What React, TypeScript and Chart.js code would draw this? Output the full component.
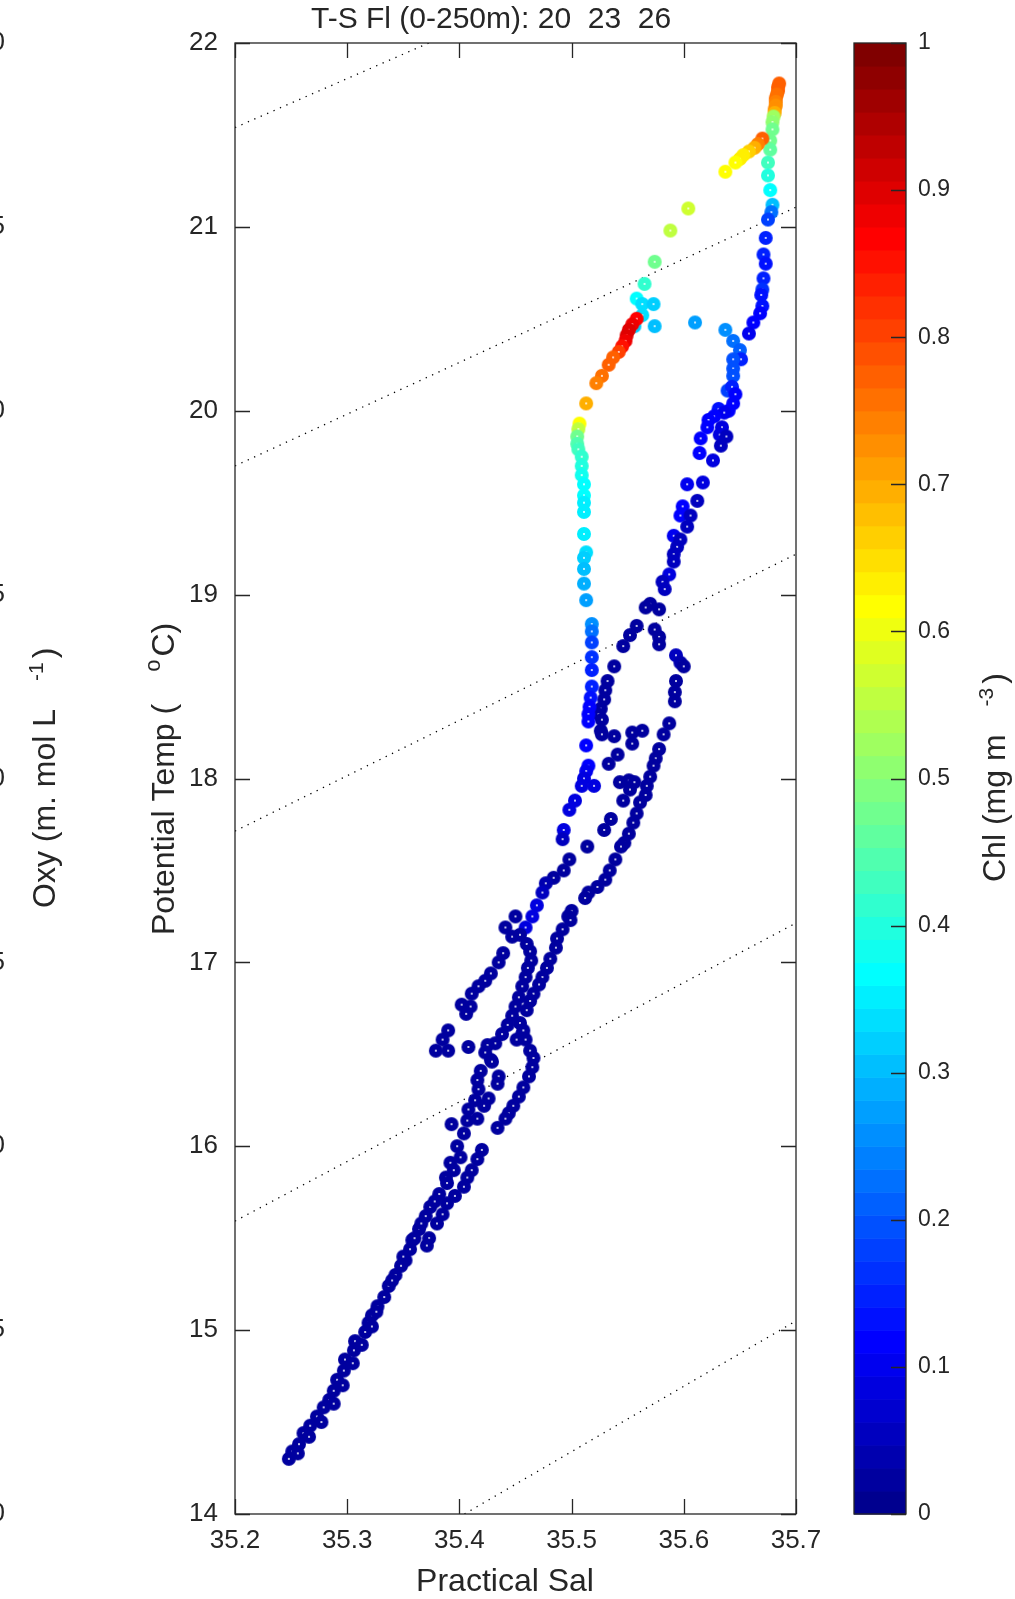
import React, { useEffect, useRef } from "react";
import { Chart, registerables } from "chart.js";

Chart.register(...registerables);

// ---------- data ----------
const salinity: number[] = [
  // surface column (top right)
  35.685, 35.684, 35.684, 35.683, 35.682, 35.682, 35.682, 35.681, 35.681, 35.680,
  35.679, 35.679, 35.677, 35.677, 35.675, 35.675, 35.677, 35.679, 35.678, 35.675,
  35.673, 35.671, 35.673, 35.671, 35.670, 35.669, 35.670, 35.668, 35.662, 35.658,
  // yellow diagonal branch and right blue branch
  35.670, 35.666, 35.663, 35.658, 35.653, 35.650, 35.646, 35.637, 35.604, 35.588,
  35.574, 35.565, 35.558, 35.563, 35.573, 35.563, 35.556, 35.574, 35.610, 35.637,
  35.644, 35.650, 35.651, 35.644, 35.644, 35.644, 35.639, 35.643, 35.646, 35.644,
  35.640, 35.631, 35.636, 35.627, 35.622, 35.621, 35.634, 35.632, 35.638, 35.633,
  35.615, 35.614, 35.626, 35.617, 35.603, 35.612, 35.599, 35.597, 35.606, 35.603,
  35.591, 35.597, 35.594, 35.591, 35.591, 35.587, 35.581, 35.583, 35.570, 35.566,
  35.578, 35.558, 35.552, 35.546, 35.538, 35.532, 35.530, 35.529, 35.526, 35.524,
  35.527, 35.526, 35.527, 35.538, 35.554, 35.563, 35.554, 35.541, 35.533, 35.543,
  35.551, 35.556, 35.552, 35.546, 35.535, 35.529, 35.514,
  // red cluster and cyan column
  35.558, 35.554, 35.551, 35.549, 35.548, 35.545, 35.542, 35.537, 35.533, 35.527,
  35.522, 35.513, 35.507, 35.506, 35.505, 35.505, 35.506, 35.509, 35.509, 35.509,
  35.511, 35.511, 35.511, 35.511, 35.511, 35.513, 35.511, 35.511, 35.511, 35.513,
  35.518, 35.518, 35.518, 35.518, 35.518, 35.518, 35.517, 35.516, 35.515, 35.515,
  35.513, 35.515, 35.513, 35.511, 35.509, 35.503, 35.520,
  // right navy strand
  35.574, 35.578, 35.578, 35.593, 35.597, 35.600, 35.593, 35.592, 35.592, 35.587,
  35.582, 35.578, 35.575, 35.573, 35.570, 35.567, 35.566, 35.561, 35.558, 35.555,
  35.551, 35.547, 35.544, 35.539, 35.534, 35.530, 35.523, 35.515, 35.512, 35.500,
  35.497, 35.499, 35.492, 35.487, 35.486, 35.481, 35.478, 35.474, 35.471, 35.466,
  35.463, 35.460, 35.454, 35.456, 35.459, 35.463, 35.466, 35.465, 35.462, 35.457,
  35.453, 35.448, 35.444, 35.441, 35.434, 35.420, 35.416, 35.411, 35.407, 35.404,
  35.396, 35.389, 35.385, 35.380, 35.373, 35.371,
  // left strand
  35.498, 35.493, 35.492, 35.498, 35.493, 35.484, 35.477, 35.474, 35.469, 35.465,
  35.459, 35.450, 35.441, 35.447, 35.454, 35.460, 35.463, 35.464, 35.461, 35.459,
  35.456, 35.453, 35.450, 35.447, 35.443, 35.438, 35.432, 35.425, 35.423, 35.428,
  35.419, 35.416, 35.417, 35.414, 35.408, 35.407, 35.404, 35.398, 35.392, 35.388,
  35.429, 35.435, 35.434, 35.426, 35.422, 35.416, 35.457, 35.451,
  // isolated points left of the strands
  35.439, 35.435, 35.428, 35.423, 35.417, 35.411, 35.402, 35.410, 35.406, 35.390,
  35.385, 35.379, 35.390, 35.408, 35.393,
  // deep tail
  35.401, 35.395, 35.389, 35.382, 35.374, 35.370, 35.364, 35.358, 35.356, 35.352,
  35.348, 35.343, 35.337, 35.333, 35.327, 35.322, 35.319, 35.316, 35.307, 35.306,
  35.298, 35.297, 35.291, 35.288, 35.284, 35.279, 35.273, 35.267, 35.261, 35.257,
  35.251, 35.248,
  35.378, 35.366, 35.360, 35.350, 35.340, 35.326, 35.322, 35.313, 35.305, 35.296,
  35.288, 35.277, 35.266, 35.256,
];

const temperature: number[] = [
  21.78, 21.76, 21.74, 21.72, 21.70, 21.68, 21.66, 21.64, 21.62, 21.60,
  21.57, 21.53, 21.47, 21.42, 21.35, 21.28, 21.20, 21.12, 21.08, 21.04,
  20.94, 20.85, 20.80, 20.72, 20.66, 20.63, 20.57, 20.53, 20.48, 20.42,
  21.48, 21.45, 21.43, 21.41, 21.39, 21.37, 21.35, 21.30, 21.10, 20.98,
  20.81, 20.69, 20.61, 20.58, 20.58, 20.52, 20.46, 20.46, 20.48, 20.44,
  20.38, 20.33, 20.28, 20.28, 20.23, 20.19, 20.11, 20.13, 20.09, 20.04,
  20.00, 20.01, 19.99, 19.97, 19.95, 19.91, 19.91, 19.87, 19.86, 19.81,
  19.85, 19.77, 19.73, 19.61, 19.60, 19.51, 19.48, 19.43, 19.43, 19.37,
  19.32, 19.30, 19.26, 19.22, 19.18, 19.11, 19.07, 19.03, 18.95, 18.93,
  18.92, 18.83, 18.78, 18.72, 18.61, 18.53, 18.48, 18.43, 18.38, 18.35,
  18.32, 18.26, 18.24, 18.23, 18.25, 18.26, 18.19, 18.13, 18.08, 17.98,
  17.99, 17.98, 17.94, 17.88, 17.78, 17.72, 17.63,
  20.50, 20.47, 20.44, 20.41, 20.38, 20.35, 20.32, 20.29, 20.25, 20.19,
  20.15, 20.04, 19.93, 19.90, 19.86, 19.82, 19.79, 19.75, 19.70, 19.65,
  19.60, 19.54, 19.50, 19.45, 19.33, 19.23, 19.20, 19.14, 19.06, 18.97,
  18.84, 18.80, 18.74, 18.66, 18.59, 18.50, 18.44, 18.39, 18.35, 18.31,
  18.18, 18.07, 18.04, 18.00, 17.96, 17.88, 17.96,
  18.81, 18.77, 18.73, 18.67, 18.63, 18.61, 18.53, 18.47, 18.42, 18.30,
  18.24, 18.16, 18.11, 18.07, 18.01, 17.96, 17.91, 17.87, 17.81, 17.76,
  17.70, 17.65, 17.63, 17.56, 17.50, 17.45, 17.41, 17.38, 17.35, 17.28,
  17.25, 17.23, 17.18, 17.13, 17.08, 17.02, 16.97, 16.92, 16.88, 16.83,
  16.79, 16.74, 16.67, 16.61, 16.58, 16.52, 16.48, 16.43, 16.38, 16.32,
  16.27, 16.22, 16.18, 16.15, 16.10, 15.98, 15.93, 15.87, 15.83, 15.78,
  15.73, 15.69, 15.63, 15.58, 15.50, 15.46,
  17.83, 17.72, 17.67, 17.56, 17.50, 17.46, 17.43, 17.38, 17.31, 17.25,
  17.19, 17.25, 17.19, 17.14, 17.15, 17.10, 17.06, 17.01, 16.97, 16.92,
  16.87, 16.81, 16.76, 16.71, 16.66, 16.61, 16.56, 16.55, 16.51, 16.47,
  16.41, 16.36, 16.31, 16.25, 16.20, 16.14, 16.07, 16.00, 15.91, 15.83,
  16.46, 16.38, 16.34, 16.26, 16.22, 16.15, 16.63, 16.58,
  17.05, 17.00, 16.94, 16.90, 16.87, 16.83, 16.77, 16.76, 16.72, 16.63,
  16.58, 16.52, 16.52, 16.54, 16.12,
  15.94, 15.87, 15.80, 15.74, 15.67, 15.62, 15.55, 15.49, 15.44, 15.38,
  15.35, 15.30, 15.24, 15.18, 15.13, 15.08, 15.04, 14.99, 14.94, 14.89,
  14.84, 14.78, 14.73, 14.67, 14.62, 14.58, 14.53, 14.48, 14.44, 14.38,
  14.34, 14.30,
  15.70, 15.58, 15.50, 15.40, 15.27, 15.10, 15.02, 14.92, 14.82, 14.70,
  14.60, 14.50, 14.42, 14.33,
];

const chlorophyll: number[] = [
  0.78, 0.78, 0.77, 0.76, 0.75, 0.74, 0.73, 0.72, 0.70, 0.53,
  0.50, 0.48, 0.47, 0.46, 0.43, 0.40, 0.36, 0.30, 0.23, 0.18,
  0.15, 0.15, 0.14, 0.15, 0.16, 0.14, 0.13, 0.12, 0.12, 0.10,
  0.78, 0.74, 0.70, 0.66, 0.64, 0.63, 0.62, 0.62, 0.57, 0.55,
  0.48, 0.42, 0.37, 0.34, 0.32, 0.34, 0.32, 0.30, 0.28, 0.25,
  0.22, 0.21, 0.15, 0.20, 0.20, 0.20, 0.18, 0.15, 0.12, 0.12,
  0.12, 0.13, 0.10, 0.12, 0.12, 0.12, 0.08, 0.08, 0.05, 0.05,
  0.12, 0.12, 0.08, 0.08, 0.10, 0.05, 0.12, 0.12, 0.05, 0.05,
  0.10, 0.05, 0.05, 0.05, 0.05, 0.08, 0.05, 0.05, 0.02, 0.02,
  0.02, 0.02, 0.02, 0.02, 0.02, 0.02, 0.02, 0.02, 0.02, 0.02,
  0.02, 0.02, 0.02, 0.02, 0.03, 0.03, 0.02, 0.02, 0.02, 0.02,
  0.03, 0.03, 0.02, 0.02, 0.02, 0.02, 0.02,
  0.86, 0.88, 0.90, 0.90, 0.88, 0.85, 0.80, 0.78, 0.78, 0.76,
  0.74, 0.70, 0.62, 0.55, 0.48, 0.45, 0.43, 0.41, 0.40, 0.38,
  0.37, 0.36, 0.35, 0.35, 0.35, 0.33, 0.32, 0.31, 0.29, 0.27,
  0.26, 0.22, 0.18, 0.16, 0.15, 0.15, 0.13, 0.12, 0.12, 0.12,
  0.12, 0.11, 0.10, 0.09, 0.08, 0.08, 0.08,
  0.02, 0.02, 0.02, 0.05, 0.04, 0.03, 0.02, 0.02, 0.02, 0.02,
  0.02, 0.02, 0.02, 0.02, 0.02, 0.02, 0.02, 0.02, 0.02, 0.02,
  0.02, 0.02, 0.02, 0.02, 0.02, 0.02, 0.02, 0.02, 0.02, 0.02,
  0.02, 0.02, 0.02, 0.02, 0.02, 0.02, 0.02, 0.02, 0.02, 0.02,
  0.02, 0.02, 0.02, 0.02, 0.02, 0.02, 0.02, 0.02, 0.02, 0.02,
  0.02, 0.02, 0.02, 0.02, 0.02, 0.02, 0.02, 0.02, 0.02, 0.02,
  0.02, 0.02, 0.02, 0.02, 0.02, 0.02,
  0.08, 0.08, 0.06, 0.02, 0.02, 0.03, 0.04, 0.05, 0.08, 0.08,
  0.08, 0.02, 0.02, 0.02, 0.02, 0.02, 0.02, 0.02, 0.02, 0.02,
  0.02, 0.02, 0.02, 0.02, 0.02, 0.02, 0.02, 0.02, 0.02, 0.02,
  0.02, 0.02, 0.02, 0.02, 0.02, 0.02, 0.02, 0.02, 0.02, 0.02,
  0.02, 0.02, 0.02, 0.02, 0.02, 0.02, 0.02, 0.02,
  0.02, 0.02, 0.02, 0.02, 0.02, 0.02, 0.02, 0.02, 0.02, 0.02,
  0.02, 0.02, 0.02, 0.02, 0.02,
  0.02, 0.02, 0.02, 0.02, 0.02, 0.02, 0.02, 0.02, 0.02, 0.02,
  0.02, 0.02, 0.02, 0.02, 0.02, 0.02, 0.02, 0.02, 0.02, 0.02,
  0.02, 0.02, 0.02, 0.02, 0.02, 0.02, 0.02, 0.02, 0.02, 0.02,
  0.02, 0.02,
  0.02, 0.02, 0.02, 0.02, 0.02, 0.02, 0.02, 0.02, 0.02, 0.02,
  0.02, 0.02, 0.02, 0.02,
];

// isopycnal (dotted) lines: start / end in (salinity, temperature)
const isoSalStart = [35.2, 35.2, 35.2, 35.2, 35.4045];
const isoTempStart = [21.54, 19.70, 17.714, 15.593, 14.0];
const isoSalEnd = [35.3727, 35.7, 35.7, 35.7, 35.7];
const isoTempEnd = [22.0, 21.107, 19.22, 17.214, 15.05];

const xTicks = [35.2, 35.3, 35.4, 35.5, 35.6, 35.7];
const yTicks = [14, 15, 16, 17, 18, 19, 20, 21, 22];
const cbTicks = [0, 0.1, 0.2, 0.3, 0.4, 0.5, 0.6, 0.7, 0.8, 0.9, 1];
const cbTickLabels = ["0", "0.1", "0.2", "0.3", "0.4", "0.5", "0.6", "0.7", "0.8", "0.9", "1"];
const oxyTickFragments = ["0", "5", "0", "5", "0", "5", "0", "5", "0"];

const titleText = "T-S Fl (0-250m): 20  23  26";
const xLabel = "Practical Sal";

// ---------- styling helpers ----------
const FONT = '"Liberation Sans", Arial, Helvetica, sans-serif';
const INK = "#262626";

function jetMap(n: number): number[][] {
  const m = Math.ceil(n / 4);
  const u: number[] = [];
  for (let i = 1; i <= m; i++) u.push(i / m);
  for (let i = 0; i < m - 1; i++) u.push(1);
  for (let i = m; i >= 1; i--) u.push(i / m);
  const J = Array.from({ length: n }, () => [0, 0, 0]);
  const off = Math.ceil(m / 2) - (n % 4 === 1 ? 1 : 0);
  for (let k = 0; k < u.length; k++) {
    const g = off + k + 1;
    const r = g + m;
    const b = g - m;
    if (r >= 1 && r <= n) J[r - 1][0] = u[k];
    if (g >= 1 && g <= n) J[g - 1][1] = u[k];
    if (b >= 1 && b <= n) J[b - 1][2] = u[k];
  }
  return J;
}
const JET = jetMap(64);
const rgb = (c: number[]) =>
  `rgb(${Math.round(c[0] * 255)},${Math.round(c[1] * 255)},${Math.round(c[2] * 255)})`;
const jetIndex = (v: number) => Math.max(0, Math.min(63, Math.floor(v * 64)));

// marker sprite: filled jet-coloured disc with a tiny white centre
const SPRITE = 16;
const markerCache: Record<number, HTMLCanvasElement> = {};
function markerFor(idx: number): HTMLCanvasElement {
  if (markerCache[idx]) return markerCache[idx];
  const c = document.createElement("canvas");
  c.width = SPRITE;
  c.height = SPRITE;
  const g = c.getContext("2d")!;
  const h = SPRITE / 2;
  g.fillStyle = rgb(JET[idx]);
  g.beginPath();
  g.arc(h, h, 7.0, 0, Math.PI * 2);
  g.fill();
  g.fillStyle = "#ffffff";
  g.beginPath();
  g.arc(h, h, 1.0, 0, Math.PI * 2);
  g.fill();
  markerCache[idx] = c;
  return c;
}

type Seg = { t: string; size: number; rise?: number; gap?: number };
function drawRotated(ctx: CanvasRenderingContext2D, x: number, y: number, segs: Seg[]) {
  ctx.save();
  ctx.translate(x, y);
  ctx.rotate(-Math.PI / 2);
  ctx.textAlign = "left";
  ctx.textBaseline = "alphabetic";
  ctx.fillStyle = INK;
  let cx = 0;
  for (const s of segs) {
    cx += s.gap || 0;
    ctx.font = `${s.size}px ${FONT}`;
    ctx.fillText(s.t, cx, -(s.rise || 0));
    cx += ctx.measureText(s.t).width;
  }
  ctx.restore();
}

const decorPlugin = {
  id: "decor",
  afterDraw(chart: any) {
    const { ctx, chartArea: ca, scales } = chart;
    const xs = scales.x;
    const ys = scales.y;
    const cb = scales.cb;
    ctx.save();

    // axes box + inward ticks
    ctx.strokeStyle = INK;
    ctx.lineWidth = 1.3;
    ctx.strokeRect(ca.left, ca.top, ca.right - ca.left, ca.bottom - ca.top);
    ctx.beginPath();
    for (const v of xTicks) {
      const px = Math.round(xs.getPixelForValue(v)) + 0.5;
      ctx.moveTo(px, ca.bottom);
      ctx.lineTo(px, ca.bottom - 15);
      ctx.moveTo(px, ca.top);
      ctx.lineTo(px, ca.top + 15);
    }
    for (const v of yTicks) {
      const py = Math.round(ys.getPixelForValue(v)) + 0.5;
      ctx.moveTo(ca.left, py);
      ctx.lineTo(ca.left + 15, py);
      ctx.moveTo(ca.right, py);
      ctx.lineTo(ca.right - 15, py);
    }
    ctx.stroke();

    // clipped left-axis (Oxy) tick labels
    ctx.fillStyle = INK;
    ctx.font = `26px ${FONT}`;
    ctx.textAlign = "right";
    ctx.textBaseline = "middle";
    yTicks.forEach((v, i) => {
      const py = ys.getPixelForValue(v);
      ctx.fillText(oxyTickFragments[yTicks.length - 1 - i], 5, py);
    });

    // colorbar
    const cbL = 854;
    const cbR = 906;
    for (let i = 0; i < 64; i++) {
      const y0 = cb.getPixelForValue(i / 64);
      const y1 = cb.getPixelForValue((i + 1) / 64);
      ctx.fillStyle = rgb(JET[i]);
      ctx.fillRect(cbL, y1, cbR - cbL, y0 - y1 + 0.6);
    }
    const cbTop = cb.getPixelForValue(1);
    const cbBot = cb.getPixelForValue(0);
    ctx.strokeStyle = INK;
    ctx.lineWidth = 1.3;
    ctx.strokeRect(cbL, cbTop, cbR - cbL, cbBot - cbTop);
    ctx.beginPath();
    cbTicks.forEach((v) => {
      const py = Math.round(cb.getPixelForValue(v)) + 0.5;
      ctx.moveTo(cbR, py);
      ctx.lineTo(cbR - 15, py);
    });
    ctx.stroke();
    ctx.fillStyle = INK;
    ctx.font = `23px ${FONT}`;
    ctx.textAlign = "left";
    ctx.textBaseline = "middle";
    cbTicks.forEach((v, i) => {
      ctx.fillText(cbTickLabels[i], 918, cb.getPixelForValue(v));
    });

    // title and axis labels
    ctx.font = `30px ${FONT}`;
    ctx.textAlign = "left";
    ctx.textBaseline = "alphabetic";
    ctx.fillText(titleText, 311, 28);
    ctx.font = `32px ${FONT}`;
    ctx.textAlign = "center";
    ctx.fillText(xLabel, 505, 1591);

    drawRotated(ctx, 173.5, 935, [
      { t: "Potential Temp (", size: 32 },
      { t: "o", size: 22, rise: 14, gap: 32 },
      { t: "C)", size: 32, gap: 3 },
    ]);
    drawRotated(ctx, 55, 908, [
      { t: "Oxy (m. mol L", size: 32 },
      { t: "-1", size: 21, rise: 12, gap: 28 },
      { t: ")", size: 32, gap: 4 },
    ]);
    drawRotated(ctx, 1005, 882, [
      { t: "Chl (mg m", size: 32 },
      { t: "-3", size: 21, rise: 12, gap: 28 },
      { t: ")", size: 32, gap: 4 },
    ]);
    ctx.restore();
  },
};

export default function App() {
  const canvasRef = useRef<HTMLCanvasElement | null>(null);

  useEffect(() => {
    document.body.style.margin = "0";
    const canvas = canvasRef.current;
    if (!canvas) return;

    const points = salinity.map((s, i) => ({ x: s, y: temperature[i] }));
    const markers = chlorophyll.map((c) => markerFor(jetIndex(c)));

    const isoSets = isoSalStart.map((s, i) => ({
      type: "scatter" as const,
      data: [
        { x: s, y: isoTempStart[i] },
        { x: isoSalEnd[i], y: isoTempEnd[i] },
      ],
      showLine: true,
      borderColor: "#000000",
      borderWidth: 1.3,
      borderDash: [1.3, 5.7],
      pointRadius: 0,
      xAxisID: "x",
      yAxisID: "y",
    }));

    const chart = new Chart(canvas, {
      type: "scatter",
      data: {
        datasets: [
          {
            data: points,
            pointRadius: 7,
            pointStyle: markers,
            xAxisID: "x",
            yAxisID: "y",
          } as any,
          ...isoSets,
        ],
      },
      options: {
        animation: false,
        responsive: false,
        maintainAspectRatio: false,
        events: [],
        layout: { padding: { top: 43, right: 219, left: 0, bottom: 0 } },
        plugins: {
          legend: { display: false },
          tooltip: { enabled: false },
          title: { display: false },
        },
        scales: {
          x: {
            type: "linear",
            position: "bottom",
            min: 35.2,
            max: 35.7,
            grid: { display: false, drawTicks: false },
            border: { display: false },
            afterBuildTicks: (s: any) => {
              s.ticks = xTicks.map((v) => ({ value: v }));
            },
            afterFit: (s: any) => {
              s.height = 85;
            },
            ticks: {
              color: INK,
              font: { size: 26, family: FONT },
              padding: 11,
              maxRotation: 0,
              autoSkip: false,
              callback: (v: any) => Number(v).toFixed(1),
            },
          },
          y: {
            type: "linear",
            position: "left",
            min: 14,
            max: 22,
            grid: { display: false, drawTicks: false },
            border: { display: false },
            afterBuildTicks: (s: any) => {
              s.ticks = yTicks.map((v) => ({ value: v }));
            },
            afterFit: (s: any) => {
              s.width = 235;
            },
            ticks: {
              color: INK,
              font: { size: 26, family: FONT },
              padding: 17,
              autoSkip: false,
              callback: (v: any) => String(Math.round(Number(v))),
            },
          },
          cb: {
            type: "linear",
            position: "right",
            min: 0,
            max: 1,
            display: false,
          },
        },
      } as any,
      plugins: [decorPlugin],
    });

    return () => chart.destroy();
  }, []);

  return (
    <div style={{ width: 1015, height: 1599, position: "relative", background: "#ffffff" }}>
      <canvas ref={canvasRef} width={1015} height={1599} style={{ display: "block" }} />
    </div>
  );
}
